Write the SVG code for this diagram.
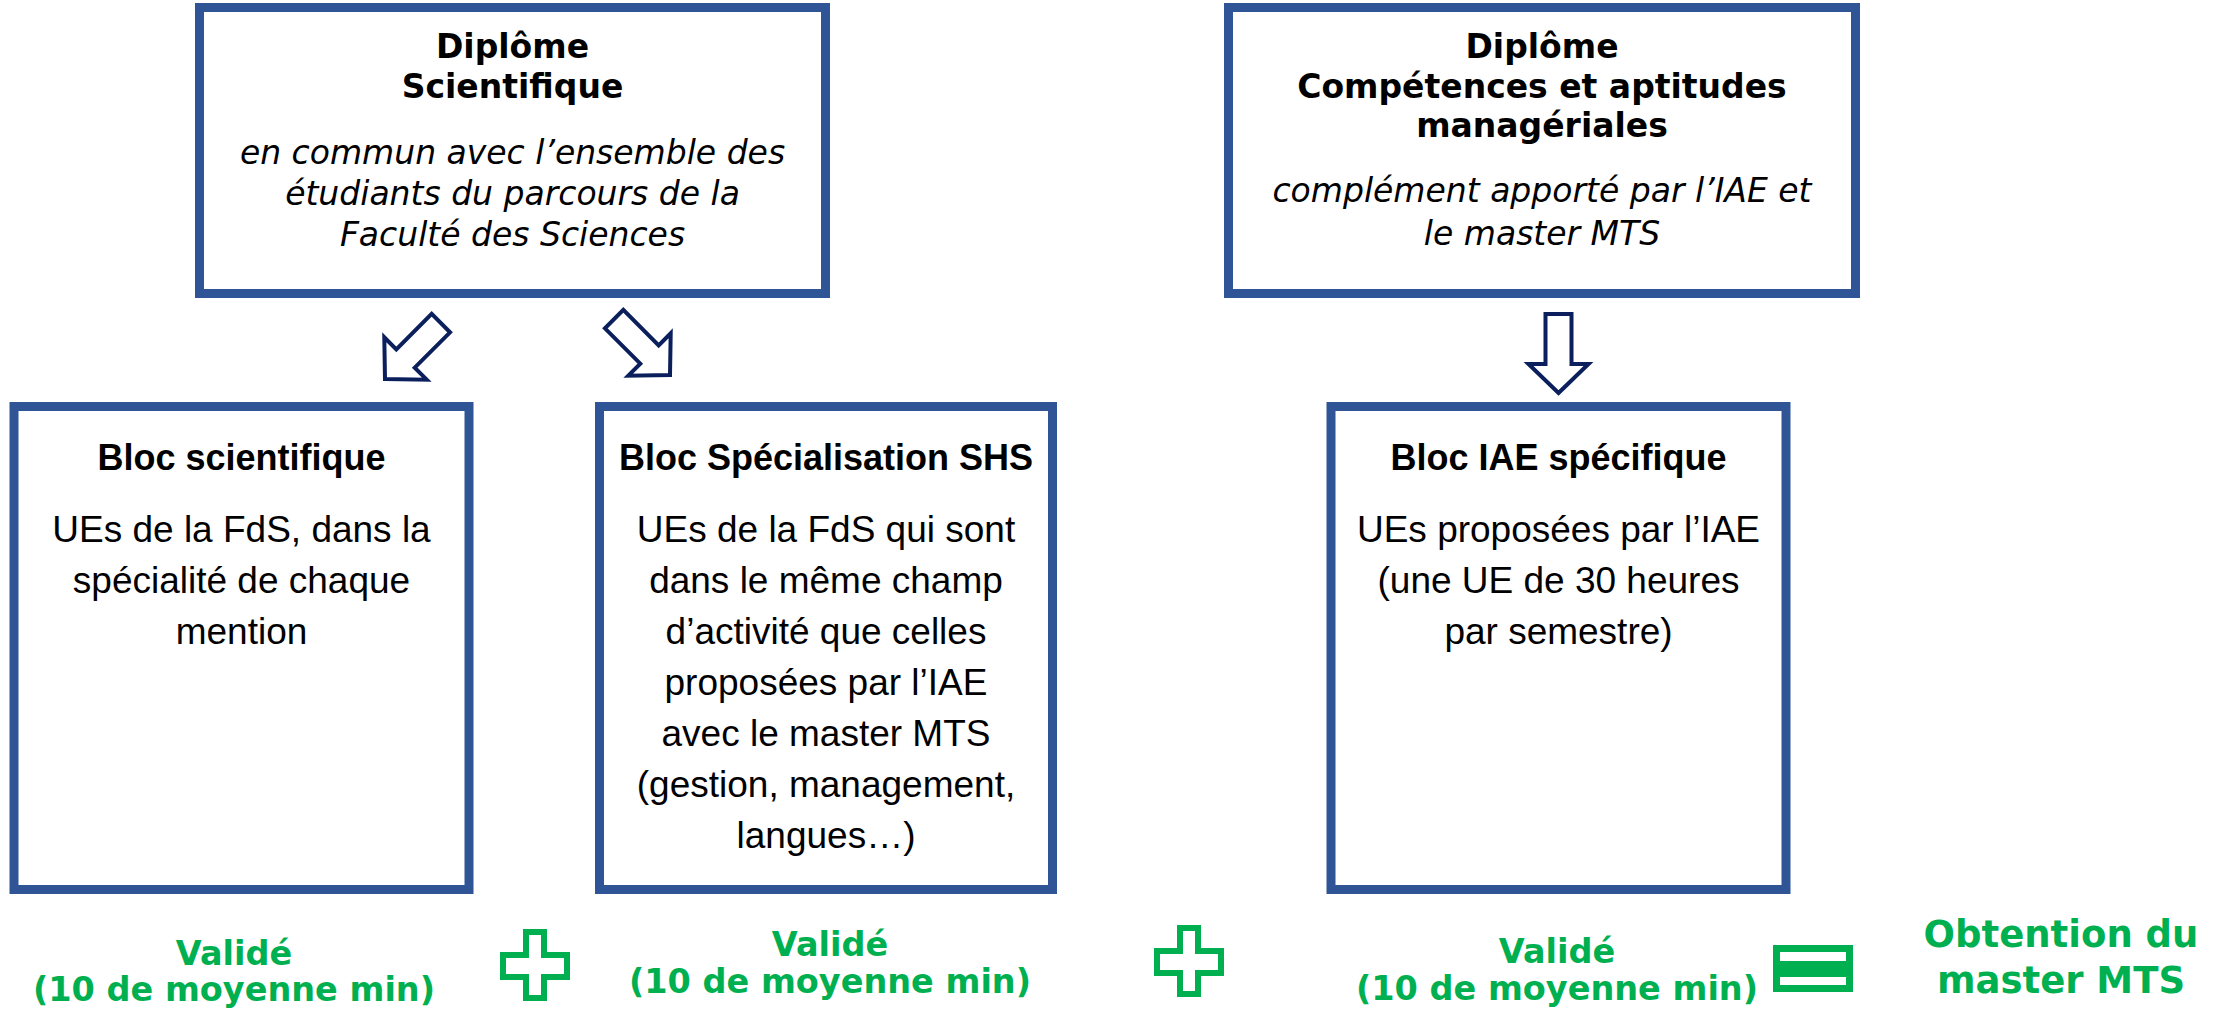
<svg xmlns="http://www.w3.org/2000/svg" width="2233" height="1010" viewBox="0 0 2233 1010">
<style>
.box{fill:#fff;stroke:#2F5597;stroke-width:9}
.dh{font-family:"DejaVu Sans",Verdana,sans-serif;font-size:33px;font-weight:bold;fill:#000;text-anchor:middle}
.di{font-family:"DejaVu Sans",Verdana,sans-serif;font-size:33px;font-style:italic;fill:#000;text-anchor:middle}
.bt{font-family:"Liberation Sans",Arial,sans-serif;font-size:36px;font-weight:bold;fill:#000;text-anchor:middle}
.bb{font-family:"Liberation Sans",Arial,sans-serif;font-size:37px;fill:#000;text-anchor:middle}
.g{font-family:"DejaVu Sans",Verdana,sans-serif;font-weight:bold;font-size:33.5px;fill:#00B050;text-anchor:middle}
.go{font-family:"DejaVu Sans",Verdana,sans-serif;font-weight:bold;font-size:37px;fill:#00B050;text-anchor:middle}
.arrow{fill:#fff;stroke:#0A1F5C;stroke-width:4;stroke-linejoin:miter}
.plus{fill:#fff;stroke:#00B050;stroke-width:6}
</style>
<defs>
<polygon id="blockArrow" points="0,0 30,-29 13,-29 13,-79 -13,-79 -13,-29 -30,-29"/>
<path id="cross" d="M526,932H544V955H567V977H544V998H526V977H503V955H526Z"/>
</defs>
<rect width="2233" height="1010" fill="#fff"/>

<g id="diplome-scientifique">
<rect class="box" x="199.5" y="7.5" width="626" height="286"/>
<text class="dh" x="512.5" y="58">Diplôme</text>
<text class="dh" x="512.5" y="98">Scientifique</text>
<text class="di" x="512.5" y="164">en commun avec l’ensemble des</text>
<text class="di" x="512.5" y="205">étudiants du parcours de la</text>
<text class="di" x="512.5" y="246">Faculté des Sciences</text>
</g>

<g id="diplome-competences">
<rect class="box" x="1228.5" y="7.5" width="627" height="286"/>
<text class="dh" x="1542" y="58">Diplôme</text>
<text class="dh" x="1542" y="98">Compétences et aptitudes</text>
<text class="dh" x="1542" y="137">managériales</text>
<text class="di" x="1542" y="202">complément apporté par l’IAE et</text>
<text class="di" x="1542" y="245">le master MTS</text>
</g>

<g id="bloc-scientifique">
<rect class="box" x="14" y="406.5" width="455" height="483"/>
<text class="bt" x="241.5" y="470">Bloc scientifique</text>
<text class="bb" x="241.5" y="542">UEs de la FdS, dans la</text>
<text class="bb" x="241.5" y="593">spécialité de chaque</text>
<text class="bb" x="241.5" y="644">mention</text>
</g>

<g id="bloc-shs">
<rect class="box" x="599.5" y="406.5" width="453" height="483"/>
<text class="bt" x="826" y="470">Bloc Spécialisation SHS</text>
<text class="bb" x="826" y="542">UEs de la FdS qui sont</text>
<text class="bb" x="826" y="593">dans le même champ</text>
<text class="bb" x="826" y="644">d’activité que celles</text>
<text class="bb" x="826" y="695">proposées par l’IAE</text>
<text class="bb" x="826" y="746">avec le master MTS</text>
<text class="bb" x="826" y="797">(gestion, management,</text>
<text class="bb" x="826" y="848">langues…)</text>
</g>

<g id="bloc-iae">
<rect class="box" x="1331" y="406.5" width="455" height="483"/>
<text class="bt" x="1558.5" y="470">Bloc IAE spécifique</text>
<text class="bb" x="1558.5" y="542">UEs proposées par l’IAE</text>
<text class="bb" x="1558.5" y="593">(une UE de 30 heures</text>
<text class="bb" x="1558.5" y="644">par semestre)</text>
</g>

<g id="connectors">
<use href="#blockArrow" class="arrow" transform="translate(385,379) rotate(45)"/>
<use href="#blockArrow" class="arrow" transform="translate(670,375) rotate(-45)"/>
<use href="#blockArrow" class="arrow" transform="translate(1558.5,393)"/>
</g>

<g id="validation-1">
<text class="g" x="234" y="965">Validé</text>
<text class="g" x="234" y="1001">(10 de moyenne min)</text>
</g>
<g id="plus-1">
<use href="#cross" class="plus"/>
</g>
<g id="validation-2">
<text class="g" x="830" y="956">Validé</text>
<text class="g" x="830" y="993">(10 de moyenne min)</text>
</g>
<g id="plus-2">
<use href="#cross" class="plus" transform="translate(654,-4)"/>
</g>
<g id="validation-3">
<text class="g" x="1557" y="963">Validé</text>
<text class="g" x="1557" y="1000">(10 de moyenne min)</text>
</g>
<g id="equals">
<rect x="1773" y="945" width="80" height="47" fill="#00B050"/>
<rect x="1780" y="952" width="66" height="9" fill="#fff"/>
<rect x="1780" y="977" width="66" height="8" fill="#fff"/>
</g>
<g id="obtention">
<text class="go" x="2061" y="947">Obtention du</text>
<text class="go" x="2061" y="993">master MTS</text>
</g>
</svg>
